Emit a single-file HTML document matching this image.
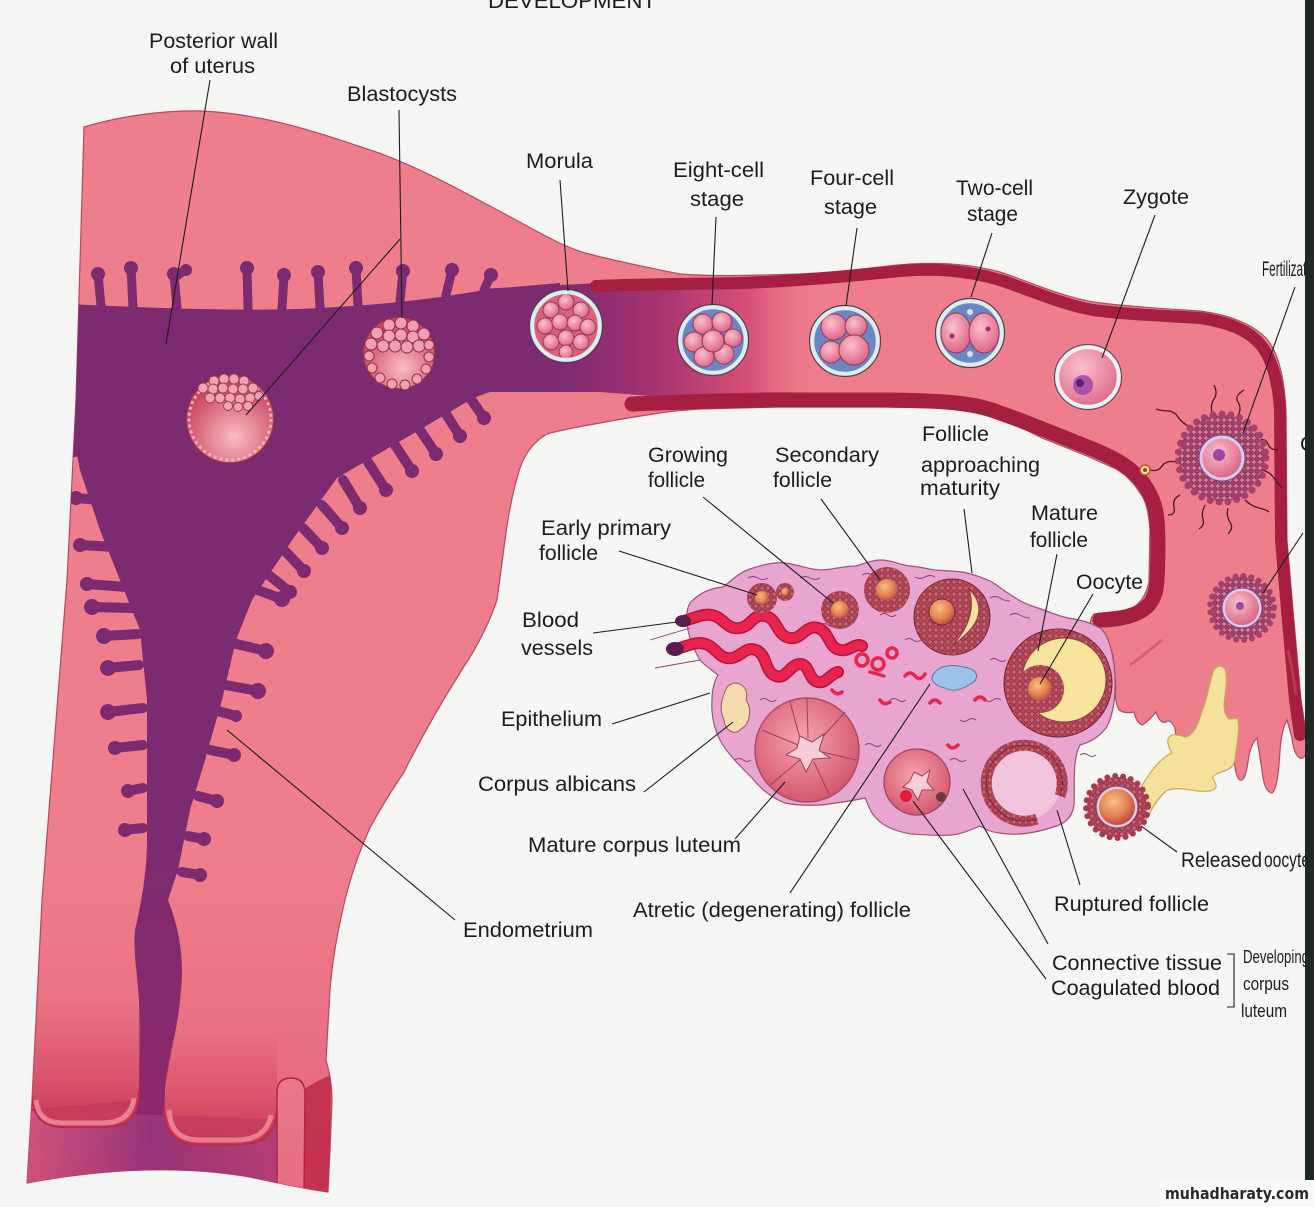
<!DOCTYPE html>
<html><head><meta charset="utf-8"><title>Ovarian cycle, fertilization and early development</title>
<style>
html,body{margin:0;padding:0;background:#f5f5f4;width:1314px;height:1207px;overflow:hidden}
svg{display:block}
.t{font-family:"Liberation Sans",Arial,sans-serif;font-size:21px;fill:#1c1c1c}
.s{font-family:"Liberation Sans",Arial,sans-serif;font-size:18px;fill:#1c1c1c}
.l{stroke:#1c1c1c;stroke-width:1.1;fill:none}
.g{stroke:#7d2b70;stroke-width:9;stroke-linecap:round;fill:none}
.tx{stroke:#8a3f70;stroke-width:0.9;fill:none}
.sp{stroke:#4a1a22;stroke-width:1.3;fill:none}
</style></head><body>
<svg width="1314" height="1207" viewBox="0 0 1314 1207" xmlns="http://www.w3.org/2000/svg">
<defs>
<path id="ut" d="M84,127 C120,116 165,110 202,111 C265,114 320,133 379,153 C425,170 465,193 505,214 C540,233 565,248 589,254 C620,262 650,268 680,274 C720,277 760,275 800,274 C850,272 880,266 910,264 C940,262 970,264 1000,272 C1030,282 1060,296 1093,302 C1130,307 1170,309 1200,311 C1230,315 1252,324 1266,338 C1278,352 1284,375 1286,410 L1287,540 L1293,610 L1301,700 L1308,745 Q1306,760 1300,758 Q1294,755 1292,738 L1287,720 Q1282,728 1280,750 Q1278,790 1272,793 Q1264,792 1262,770 L1257,738 Q1250,745 1248,762 Q1245,782 1240,780 Q1235,777 1234,756 L1231,735 L1195,742 Q1188,760 1182,757 Q1176,745 1175,728 Q1170,718 1166,722 Q1160,724 1156,712 Q1148,722 1142,725 Q1136,722 1134,712 Q1125,714 1119,710 Q1114,700 1116,688 L1113,655 L1106,640 L1096,632 Q1086,624 1094,614 L1128,610 Q1144,604 1149,582 L1150,530 Q1148,502 1140,493 Q1130,477 1116,469 L1087,456 L1042,438 Q1020,426 998,419 Q975,410 946,408 L880,407 L777,407 L700,409 Q670,411 660,413 Q620,419 600,423 Q560,430 547,434 Q528,445 520,468 Q510,500 505,540 L497,600 Q485,635 463,668 Q430,720 404,772 Q382,805 370,828 Q355,860 345,900 Q333,950 330,990 L326,1060 Q332,1080 332,1100 L330,1150 L328,1192 Q300,1188 250,1177 Q150,1160 27,1183 L32,1100 L42,900 L67,580 L76,400 Z"/>
<clipPath id="utc"><use href="#ut"/></clipPath>
<radialGradient id="cellP" cx="0.4" cy="0.35" r="0.7"><stop offset="0" stop-color="#fbc0cc"/><stop offset="1" stop-color="#dc6282"/></radialGradient>
<radialGradient id="oocOr" cx="0.4" cy="0.35" r="0.7"><stop offset="0" stop-color="#f7c080"/><stop offset="0.6" stop-color="#e08050"/><stop offset="1" stop-color="#b04048"/></radialGradient>
<radialGradient id="blast" cx="0.55" cy="0.7" r="0.6"><stop offset="0" stop-color="#fbbcc4"/><stop offset="1" stop-color="#cc4660"/></radialGradient>
<radialGradient id="cl" cx="0.45" cy="0.4" r="0.6"><stop offset="0" stop-color="#f6a4ae"/><stop offset="1" stop-color="#d4586e"/></radialGradient>
<linearGradient id="lum" gradientUnits="userSpaceOnUse" x1="560" y1="0" x2="830" y2="0"><stop offset="0" stop-color="#7d2b70"/><stop offset="0.35" stop-color="#a5326f"/><stop offset="0.7" stop-color="#d65078"/><stop offset="1" stop-color="#ef7e8c" stop-opacity="0"/></linearGradient>
<linearGradient id="lip" x1="0" y1="0" x2="0" y2="1"><stop offset="0" stop-color="#d8566c" stop-opacity="0"/><stop offset="0.5" stop-color="#d8566c" stop-opacity="0.6"/><stop offset="1" stop-color="#c8405a"/></linearGradient>
<linearGradient id="bot" gradientUnits="userSpaceOnUse" x1="0" y1="860" x2="0" y2="1192"><stop offset="0" stop-color="#c8204a" stop-opacity="0"/><stop offset="1" stop-color="#c8204a" stop-opacity="0.28"/></linearGradient>
<linearGradient id="botcav" gradientUnits="userSpaceOnUse" x1="30" y1="0" x2="300" y2="0"><stop offset="0" stop-color="#d2608a"/><stop offset="0.45" stop-color="#873a86"/><stop offset="1" stop-color="#b44a80"/></linearGradient>
<pattern id="gran" width="6" height="6" patternUnits="userSpaceOnUse"><rect width="6" height="6" fill="#c9616f"/><circle cx="3" cy="3" r="2.3" fill="#b24858" stroke="#7a2034" stroke-width="0.7"/></pattern>
<pattern id="cor" width="6" height="6" patternUnits="userSpaceOnUse"><rect width="6" height="6" fill="#d27d9a"/><circle cx="3" cy="3" r="2.3" fill="#a8406c" stroke="#6a1a44" stroke-width="0.7"/></pattern>
</defs>

<!-- header (cut) -->
<text class="t" x="488" y="8" font-size="22" textLength="168" lengthAdjust="spacingAndGlyphs">DEVELOPMENT</text>

<!-- uterus + tube body -->
<use href="#ut" fill="#ef7e8c" stroke="#b24a64" stroke-width="1.2"/>

<g clip-path="url(#utc)">
<!-- cavity -->
<path fill="#7d2b70" d="M70,304 C150,308 250,312 320,308 C400,304 450,296 490,289 L560,283 L560,384 L547,384 C510,386 490,390 470,400 L421,429 L337,478 L295,536 L252,600 L236,640 L222,700 L205,760 L190,810 L178,870 L168,900 C180,930 184,960 181,990 C178,1030 168,1060 165,1090 L165,1120 L300,1140 L300,1200 L20,1200 L20,1110 L139,1100 C139,1060 140,1030 139,1000 C137,970 133,950 135,930 C142,900 147,870 147,840 L147,700 L140,630 L122,585 L100,530 L80,470 L70,420 Z"/>
<path fill="url(#botcav)" d="M20,1110 L300,1120 L302,1200 L20,1200 Z"/>
<path fill="url(#lum)" d="M480,289 L600,283 L700,282 L830,278 L830,398 L700,400 L600,392 L480,392 Z"/>

<!-- glands -->
<g class="g">
<path d="M101,306 L98,274 M133,307 L131,268 M177,308 L174,274 M174,278 L185,270 M248,309 L247,268 M282,309 L284,275 M320,308 L318,272 M358,306 L356,268 M400,302 L403,271 M446,295 L452,270 M484,290 L491,275"/>
<path stroke-width="10" d="M470,398 L484,418 M446,414 L460,436 M420,430 L436,454 M395,445 L412,471 M368,462 L386,490 M343,480 L360,508 M322,505 L342,528 M303,528 L322,548 M286,552 L304,571 M270,576 L290,592"/>
<path stroke-width="10" d="M236,582 L282,599 M228,642 L266,651 M220,684 L258,691 M214,710 L236,716 M210,750 L234,755 M198,796 L217,801 M188,836 L204,839 M182,872 L200,875"/>
<path stroke-width="10" d="M135,608 L92,607 M138,634 L104,636 M139,665 L108,668 M143,708 L108,712 M143,745 L115,748 M143,788 L128,791 M143,828 L125,830"/>
<path stroke-width="10" d="M112,455 L74,450 M124,502 L76,498 M133,548 L80,545 M140,588 L87,584"/>
</g>
<g fill="#7d2b70">
<circle cx="98" cy="274" r="7"/><circle cx="131" cy="268" r="7"/><circle cx="174" cy="274" r="7"/><circle cx="186" cy="270" r="6"/><circle cx="247" cy="268" r="7"/><circle cx="284" cy="275" r="7"/><circle cx="318" cy="272" r="7"/><circle cx="356" cy="268" r="7"/><circle cx="403" cy="271" r="7"/><circle cx="452" cy="270" r="7"/><circle cx="491" cy="275" r="7"/>
<circle cx="484" cy="418" r="7"/><circle cx="460" cy="436" r="7"/><circle cx="436" cy="454" r="7"/><circle cx="412" cy="471" r="7"/><circle cx="386" cy="490" r="7"/><circle cx="360" cy="508" r="7"/><circle cx="342" cy="528" r="7"/><circle cx="322" cy="548" r="7"/><circle cx="304" cy="571" r="7"/><circle cx="290" cy="592" r="7"/>
<circle cx="282" cy="599" r="8"/><circle cx="266" cy="651" r="8"/><circle cx="258" cy="691" r="8"/><circle cx="236" cy="716" r="6"/><circle cx="234" cy="755" r="7"/><circle cx="217" cy="801" r="7"/><circle cx="204" cy="839" r="7"/><circle cx="200" cy="875" r="7"/>
<circle cx="92" cy="607" r="8"/><circle cx="104" cy="636" r="8"/><circle cx="108" cy="668" r="8"/><circle cx="108" cy="712" r="8"/><circle cx="115" cy="748" r="7"/><circle cx="128" cy="791" r="7"/><circle cx="125" cy="830" r="7"/>
<circle cx="74" cy="450" r="7"/><circle cx="76" cy="498" r="7"/><circle cx="80" cy="545" r="7"/><circle cx="87" cy="584" r="7"/>
</g>

<!-- cervix lips -->
<path fill="url(#lip)" d="M20,1000 L139,1000 L139,1090 C139,1118 128,1127 104,1127 L62,1127 C42,1127 32,1115 32,1095 L20,1095 Z"/>
<path fill="none" stroke="#f39aa2" stroke-width="5" d="M36,1100 C38,1118 48,1123 64,1123 L102,1123 C122,1123 132,1114 134,1098"/>
<path fill="none" stroke="#b52e4c" stroke-width="2" d="M32,1095 C32,1115 42,1127 62,1127 L104,1127 C128,1127 139,1118 139,1090"/>
<path fill="url(#lip)" d="M174,1030 L277,1030 L277,1108 C277,1136 260,1145 236,1145 L200,1145 C176,1145 164,1132 164,1108 L166,1080 Z"/>
<path fill="none" stroke="#f39aa2" stroke-width="5" d="M169,1110 C170,1130 180,1140 200,1140 L236,1140 C256,1140 268,1132 271,1115"/>
<path fill="none" stroke="#b52e4c" stroke-width="2" d="M164,1108 C164,1132 176,1145 200,1145 L236,1145 C260,1145 277,1136 277,1108"/>
<path fill="#c4384f" d="M303,1090 Q318,1080 331,1075 L330,1150 L328,1200 L303,1200 Z"/>
<path fill="#f18c98" stroke="#a82545" stroke-width="1.5" d="M277,1200 L277,1092 Q277,1078 291,1078 Q305,1078 305,1094 L304,1200 Z"/>

<!-- lower uterus shading -->
<rect x="0" y="860" width="340" height="340" fill="url(#bot)"/>
</g>

<!-- tube walls -->
<path fill="none" stroke="#a61f40" stroke-width="12" stroke-linecap="round" d="M596,286 C640,284 690,284 740,283 C800,281 850,276 900,271 C935,268 965,270 1000,280 C1030,290 1060,304 1093,310 C1130,315 1170,316 1200,318 C1228,322 1248,330 1260,344 C1272,358 1278,380 1280,410 L1281,540 L1287,610 L1295,700 L1300,735"/>
<path fill="none" stroke="#a61f40" stroke-width="15" stroke-linecap="round" d="M632,404 C680,402 730,400 777,400 L880,400 C910,400 930,401 946,402 C970,404 985,407 1000,413 C1015,418 1030,424 1045,430 L1090,448 C1105,454 1115,459 1124,465 C1140,476 1152,492 1156,512 C1159,532 1158,560 1157,580 C1156,598 1150,608 1135,614 C1122,619 1110,620 1100,620"/>
<path fill="none" stroke="#c84a62" stroke-width="3" opacity="0.6" d="M1130,665 Q1148,652 1162,640 M1288,650 Q1293,672 1296,695"/>

<!-- blastocysts -->
<circle cx="230" cy="419" r="44" fill="url(#blast)" stroke="#8a3050" stroke-width="1.5"/>
<circle cx="230" cy="419" r="41" fill="none" stroke="#f5b0bc" stroke-width="3" stroke-dasharray="3 3"/>
<g fill="#f3a3b0" stroke="#9a3a58" stroke-width="0.9">
<circle cx="214" cy="381" r="5"/><circle cx="224" cy="379" r="5"/><circle cx="234" cy="379" r="5"/><circle cx="244" cy="381" r="5"/>
<circle cx="203" cy="388" r="5"/><circle cx="213" cy="389" r="5"/><circle cx="223" cy="388" r="5"/><circle cx="233" cy="389" r="5"/><circle cx="243" cy="389" r="5"/><circle cx="253" cy="388" r="5"/>
<circle cx="210" cy="398" r="5"/><circle cx="220" cy="398" r="5"/><circle cx="230" cy="398" r="5"/><circle cx="240" cy="399" r="5"/><circle cx="250" cy="398" r="5"/><circle cx="259" cy="396" r="4.5"/>
<circle cx="228" cy="406" r="4.5"/><circle cx="238" cy="407" r="4.5"/><circle cx="248" cy="406" r="4.5"/>
</g>
<circle cx="399" cy="353" r="36" fill="url(#blast)" stroke="#8a3050" stroke-width="1.5"/>
<g fill="#f0a0ae" stroke="#8e3050" stroke-width="1">
<circle cx="389" cy="325" r="6"/><circle cx="401" cy="323" r="6"/><circle cx="413" cy="326" r="6"/>
<circle cx="377" cy="333" r="6"/><circle cx="389" cy="336" r="6"/><circle cx="401" cy="335" r="6"/><circle cx="413" cy="337" r="6"/><circle cx="424" cy="334" r="6"/>
<circle cx="371" cy="344" r="6"/><circle cx="383" cy="346" r="6"/><circle cx="395" cy="346" r="6"/><circle cx="407" cy="347" r="6"/><circle cx="419" cy="346" r="6"/><circle cx="429" cy="345" r="5"/>
<circle cx="369" cy="356" r="5"/><circle cx="429" cy="357" r="5"/><circle cx="372" cy="368" r="5"/><circle cx="426" cy="369" r="5"/>
<circle cx="380" cy="378" r="5"/><circle cx="392" cy="384" r="5"/><circle cx="405" cy="385" r="5"/><circle cx="417" cy="379" r="5"/>
</g>

<!-- morula -->
<circle cx="566" cy="326" r="32" fill="#d9637f"/>
<g fill="url(#cellP)" stroke="#9a3858" stroke-width="1">
<circle cx="566" cy="302" r="8"/><circle cx="551" cy="310" r="8"/><circle cx="581" cy="310" r="8"/>
<circle cx="545" cy="326" r="8"/><circle cx="560" cy="322" r="8"/><circle cx="575" cy="323" r="8"/><circle cx="588" cy="327" r="8"/>
<circle cx="551" cy="342" r="8"/><circle cx="566" cy="338" r="8"/><circle cx="581" cy="342" r="8"/><circle cx="566" cy="352" r="7"/>
</g>
<circle cx="566" cy="326" r="34" fill="none" stroke="#d9eef0" stroke-width="4.5"/>
<circle cx="566" cy="326" r="36.5" fill="none" stroke="#5a3a50" stroke-width="1.2"/>

<!-- eight-cell -->
<circle cx="713" cy="340" r="31" fill="#6c85c6"/>
<g fill="url(#cellP)" stroke="#9a3858" stroke-width="1">
<circle cx="703" cy="324" r="10"/><circle cx="722" cy="322" r="10"/><circle cx="733" cy="338" r="9"/><circle cx="694" cy="342" r="10"/>
<circle cx="724" cy="354" r="10"/><circle cx="704" cy="357" r="10"/><circle cx="713" cy="341" r="11"/>
</g>
<circle cx="713" cy="340" r="33" fill="none" stroke="#d9eef0" stroke-width="4.5"/>
<circle cx="713" cy="340" r="35.5" fill="none" stroke="#5a3a50" stroke-width="1.2"/>

<!-- four-cell -->
<circle cx="845" cy="341" r="31" fill="#6c85c6"/>
<g fill="url(#cellP)" stroke="#9a3858" stroke-width="1">
<circle cx="834" cy="327" r="13"/><circle cx="856" cy="326" r="11"/><circle cx="831" cy="352" r="11"/><circle cx="854" cy="350" r="15"/>
</g>
<circle cx="845" cy="341" r="33" fill="none" stroke="#d9eef0" stroke-width="4.5"/>
<circle cx="845" cy="341" r="35.5" fill="none" stroke="#5a3a50" stroke-width="1.2"/>

<!-- two-cell -->
<circle cx="970" cy="333" r="30" fill="#6c85c6"/>
<g fill="url(#cellP)" stroke="#9a3858" stroke-width="1">
<ellipse cx="956" cy="333" rx="15" ry="20"/><ellipse cx="984" cy="333" rx="15" ry="20"/>
</g>
<circle cx="970" cy="312" r="3" fill="#cfe7f0"/><circle cx="970" cy="354" r="3" fill="#cfe7f0"/>
<circle cx="952" cy="336" r="2.5" fill="#a03070"/><circle cx="988" cy="329" r="2.5" fill="#a03070"/>
<circle cx="970" cy="333" r="32" fill="none" stroke="#d9eef0" stroke-width="4.5"/>
<circle cx="970" cy="333" r="34.5" fill="none" stroke="#5a3a50" stroke-width="1.2"/>

<!-- zygote -->
<ellipse cx="1088" cy="377" rx="33" ry="32" fill="url(#cellP)"/>
<ellipse cx="1088" cy="377" rx="31" ry="30" fill="none" stroke="#e7f2f3" stroke-width="4.5"/>
<ellipse cx="1088" cy="377" rx="33.5" ry="32.5" fill="none" stroke="#6a4a60" stroke-width="1.2"/>
<circle cx="1083" cy="385" r="10" fill="#9a48a8" opacity="0.85"/><circle cx="1080" cy="383" r="4" fill="#5a2070"/>

<!-- fertilization -->
<g class="sp">
<path d="M1190,427 q-8,-4 -12,-10 t-10,-6 t-12,-2"/><path d="M1212,413 q-2,-8 2,-14 t0,-14"/><path d="M1238,416 q4,-8 0,-14 t6,-12"/>
<path d="M1258,440 q8,-2 10,4 t10,6"/><path d="M1262,470 q8,2 12,8 t8,10"/><path d="M1245,500 q6,6 14,8 t10,4"/>
<path d="M1228,508 q-2,8 2,14 t-2,12"/><path d="M1205,505 q-4,8 -2,14 t-4,10"/><path d="M1180,495 q-8,4 -6,12 t-6,8"/>
<path d="M1176,462 q-10,-2 -14,4 t-12,4"/>
</g>
<circle cx="1222" cy="458" r="43" fill="url(#cor)"/>
<circle cx="1222" cy="458" r="44" fill="none" stroke="#a8406c" stroke-width="7" stroke-dasharray="0 9" stroke-linecap="round"/>
<circle cx="1222" cy="458" r="23" fill="#dcc8e8" stroke="#7a4a90" stroke-width="1"/>
<circle cx="1222" cy="458" r="19.5" fill="url(#cellP)"/>
<circle cx="1219" cy="455" r="6" fill="#9a48a8"/>
<circle cx="1145" cy="470" r="5" fill="#f7e0a0" stroke="#c05030" stroke-width="1.5"/><circle cx="1145" cy="470" r="2" fill="#a04020"/>

<!-- second corona oocyte -->
<circle cx="1242" cy="608" r="31" fill="url(#cor)"/>
<circle cx="1242" cy="608" r="32" fill="none" stroke="#a8406c" stroke-width="6" stroke-dasharray="0 8" stroke-linecap="round"/>
<circle cx="1242" cy="608" r="20" fill="#dcc8e8" stroke="#7a4a90" stroke-width="1"/>
<circle cx="1242" cy="608" r="17" fill="url(#cellP)"/>
<circle cx="1240" cy="606" r="4" fill="#9a48a8"/>

<!-- cumulus trail -->
<path fill="#f5e29a" stroke="#c9a85a" stroke-width="1.2" d="M1138,792 C1150,772 1160,758 1172,753 C1168,746 1165,738 1172,735 C1180,733 1185,740 1190,735 C1200,725 1200,715 1205,703 C1208,692 1210,682 1213,672 C1216,664 1226,664 1226,674 C1228,690 1222,702 1225,712 C1228,725 1235,715 1238,720 C1240,732 1236,746 1235,760 C1232,772 1222,770 1215,775 C1208,779 1222,785 1213,790 C1198,795 1180,784 1166,791 C1156,800 1150,812 1146,820 Z"/>

<!-- released oocyte -->
<circle cx="1117" cy="807" r="30" fill="url(#gran)"/>
<circle cx="1117" cy="807" r="31" fill="none" stroke="#a83a50" stroke-width="6" stroke-dasharray="0 8" stroke-linecap="round"/>
<circle cx="1117" cy="807" r="21" fill="#e8c8d8" stroke="#7a3a60" stroke-width="1"/>
<circle cx="1117" cy="807" r="18" fill="url(#oocOr)"/>

<!-- ovary -->
<path fill="#e7a5d0" stroke="#a0507a" stroke-width="1.2" d="M690,603 C700,592 712,588 723,587 C732,580 740,572 750,569 C765,564 775,562 785,563 C800,565 810,570 822,570 C835,569 845,566 856,566 C866,563 872,560 882,560 C895,561 900,565 910,566 C922,567 928,569 935,570 C948,571 955,571 962,572 C975,574 982,578 990,581 C998,585 1002,590 1008,593 C1018,600 1025,604 1035,607 C1050,612 1058,616 1068,618 C1080,620 1090,622 1100,628 C1108,634 1112,650 1114,665 C1117,690 1114,715 1106,728 C1098,738 1090,742 1080,745 C1072,760 1075,785 1074,805 C1072,820 1062,825 1050,828 C1035,833 1015,836 1000,833 C990,832 985,829 980,826 C970,830 962,834 952,835 C938,836 926,835 912,834 C898,832 885,828 876,818 C870,812 868,804 865,798 C855,800 845,802 835,803 C820,806 800,806 785,803 C770,797 760,788 752,778 C740,766 726,752 720,740 C714,728 711,715 712,700 C712,690 714,682 718,675 C712,670 705,666 700,660 C694,650 690,640 688,630 C686,620 686,610 690,603 Z"/>
<path class="tx" d="M650,640 L690,628 M655,668 L700,660 M748,578 q5,-3 10,0 t10,0 M800,578 q5,-3 10,0 t10,0 M862,575 q5,-3 10,0 t10,0 M915,577 q5,3 10,0 t10,0 M990,598 q5,-3 10,0 t10,3 M1010,615 q5,-3 10,0 t10,3 M880,615 q4,-3 8,0 t8,0 M905,640 q4,-3 8,0 t8,0 M990,660 q4,-3 8,0 t8,0 M985,700 q4,3 8,0 t8,0 M890,700 q4,-3 8,0 t8,0 M760,700 q4,-3 8,0 t8,0 M865,745 q4,-3 8,0 t8,0 M950,760 q4,-3 8,0 t8,0 M960,720 q4,3 8,0 t8,0 M1080,755 q4,-3 8,0 t8,0 M735,760 q4,-3 8,0 t8,0 M820,625 q4,-3 8,0 t8,0 M1000,790 q4,-3 8,0 t8,0"/>

<!-- blood vessels -->
<g fill="none" stroke-linecap="round">
<path stroke="#b8103a" stroke-width="12" d="M684,621 C695,618 705,612 715,616 C725,620 728,630 740,628 C752,626 752,614 765,616 C778,618 776,636 790,638 C802,640 806,624 818,628 C830,632 828,648 840,650 C850,652 855,642 862,646"/>
<path stroke="#e8244c" stroke-width="9" d="M684,621 C695,618 705,612 715,616 C725,620 728,630 740,628 C752,626 752,614 765,616 C778,618 776,636 790,638 C802,640 806,624 818,628 C830,632 828,648 840,650 C850,652 855,642 862,646"/>
<path stroke="#b8103a" stroke-width="12" d="M676,649 C688,646 698,640 708,645 C718,650 720,660 732,658 C742,656 746,646 756,650 C768,655 764,672 776,676 C786,680 790,664 800,664 C810,664 808,680 818,682 C826,684 830,674 838,672"/>
<path stroke="#e8244c" stroke-width="9" d="M676,649 C688,646 698,640 708,645 C718,650 720,660 732,658 C742,656 746,646 756,650 C768,655 764,672 776,676 C786,680 790,664 800,664 C810,664 808,680 818,682 C826,684 830,674 838,672"/>
<g stroke="#e8244c" stroke-width="3.5">
<circle cx="862" cy="660" r="6"/><circle cx="878" cy="664" r="6"/><circle cx="892" cy="653" r="5"/>
<path d="M870,672 L884,676 M905,676 q5,-6 10,0 t10,-2 M880,700 q4,6 10,2 M930,703 q5,-6 10,0 M975,700 q5,-6 10,0 M948,745 q4,6 10,0 M832,690 q4,6 10,2"/>
</g>
</g>
<ellipse cx="683" cy="621" rx="8" ry="6" fill="#5c1c52"/><ellipse cx="675" cy="649" rx="9" ry="7" fill="#5c1c52"/>

<!-- follicles -->
<circle cx="762" cy="598" r="15" fill="url(#gran)"/><circle cx="762" cy="598" r="7" fill="url(#oocOr)"/>
<circle cx="785" cy="592" r="9" fill="url(#gran)"/><circle cx="785" cy="592" r="4" fill="url(#oocOr)"/>
<circle cx="840" cy="610" r="19" fill="url(#gran)"/><circle cx="840" cy="610" r="9" fill="url(#oocOr)"/>
<circle cx="887" cy="590" r="23" fill="url(#gran)"/><circle cx="887" cy="590" r="11" fill="url(#oocOr)"/>
<circle cx="952" cy="617" r="38" fill="url(#gran)" stroke="#7a2034" stroke-width="1"/>
<path fill="#f5e29a" stroke="#8a3a48" stroke-width="1" d="M969,589 Q995,615 953,645 Q978,617 969,589 Z"/>
<circle cx="942" cy="612" r="13" fill="url(#oocOr)" stroke="#7a2034" stroke-width="1"/>
<circle cx="1058" cy="683" r="54" fill="url(#gran)" stroke="#7a2034" stroke-width="1"/>
<circle cx="1064" cy="680" r="42" fill="#f6e49c" stroke="#8a3a48" stroke-width="1"/>
<circle cx="1040" cy="689" r="24" fill="url(#gran)"/>
<circle cx="1040" cy="689" r="12" fill="url(#oocOr)"/>
<circle cx="1024" cy="783" r="37" fill="#f2c3dc"/>
<path d="M1060,796 A38 38 0 1 0 1037,819" fill="none" stroke="url(#gran)" stroke-width="11"/>
<path d="M1060,796 A38 38 0 1 0 1037,819" fill="none" stroke="#7a2034" stroke-width="0.8"/>
<path fill="#f4dcae" stroke="#9a5a60" stroke-width="1" d="M728,686 C738,678 750,688 746,700 C753,710 749,725 741,729 C735,736 725,731 724,720 C719,710 721,697 728,686 Z"/>
<circle cx="807" cy="750" r="52" fill="url(#cl)" stroke="#b04a62" stroke-width="1.5"/>
<path fill="none" stroke="#a04058" stroke-width="1" d="M807,698 L808,738 M762,730 L798,745 M770,785 L800,760 M830,796 L814,762 M856,760 L822,752 M845,712 L820,740 M790,702 L800,738"/>
<path fill="#f6ccd6" stroke="#9a4058" stroke-width="1" d="M800,736 L812,742 L824,734 L819,750 L830,758 L813,759 L806,772 L800,759 L786,755 L797,748 Z"/>
<circle cx="917" cy="782" r="33" fill="url(#cl)" stroke="#a04060" stroke-width="1.2"/>
<path fill="#f6ccd6" stroke="#9a4058" stroke-width="1" d="M914,772 L922,776 L930,770 L927,782 L934,790 L922,790 L918,800 L912,790 L903,787 L910,781 Z"/>
<circle cx="906" cy="796" r="6" fill="#e41a3a"/><circle cx="941" cy="797" r="5" fill="#6a3a40"/>
<path fill="#9dc3ea" stroke="#5a7aa8" stroke-width="1" d="M935,672 C945,662 960,666 968,668 C978,670 980,680 970,684 C962,690 952,692 945,688 C935,686 928,680 935,672 Z"/>

<!-- leader lines -->
<g class="l">
<path d="M210,80 L166,344"/>
<path d="M399,110 L402,318 M400,239 L246,415"/>
<path d="M560,180 L568,291"/>
<path d="M716,217 L712,305"/>
<path d="M857,228 L846,306"/>
<path d="M992,233 L971,297"/>
<path d="M1155,215 L1102,358"/>
<path d="M1295,287 L1243,433"/>
<path d="M1303,533 L1263,593"/>
<path d="M703,497 L833,603"/>
<path d="M821,499 L880,580"/>
<path d="M964,509 L972,573"/>
<path d="M1057,554 L1038,651"/>
<path d="M1093,594 L1040,684"/>
<path d="M619,551 L757,595"/>
<path d="M593,633 L677,622"/>
<path d="M612,724 L710,693"/>
<path d="M644,792 L733,722"/>
<path d="M735,839 L785,782"/>
<path d="M790,893 L930,684"/>
<path d="M455,920 L227,730"/>
<path d="M1177,852 L1141,826"/>
<path d="M1080,885 L1057,810"/>
<path d="M1048,944 L963,789"/>
<path d="M1046,979 L913,801"/>
<path d="M1227,954 L1234,954 L1234,1007 L1227,1007"/>
</g>

<!-- labels -->
<text class="t" x="149" y="48" textLength="129" lengthAdjust="spacingAndGlyphs">Posterior wall</text>
<text class="t" x="170" y="73" textLength="85" lengthAdjust="spacingAndGlyphs">of uterus</text>
<text class="t" x="347" y="101" textLength="110" lengthAdjust="spacingAndGlyphs">Blastocysts</text>
<text class="t" x="526" y="168" textLength="67" lengthAdjust="spacingAndGlyphs">Morula</text>
<text class="t" x="673" y="177" textLength="91" lengthAdjust="spacingAndGlyphs">Eight-cell</text>
<text class="t" x="690" y="206" textLength="54" lengthAdjust="spacingAndGlyphs">stage</text>
<text class="t" x="810" y="185" textLength="84" lengthAdjust="spacingAndGlyphs">Four-cell</text>
<text class="t" x="824" y="214" textLength="53" lengthAdjust="spacingAndGlyphs">stage</text>
<text class="t" x="956" y="195" textLength="77" lengthAdjust="spacingAndGlyphs">Two-cell</text>
<text class="t" x="967" y="221" textLength="51" lengthAdjust="spacingAndGlyphs">stage</text>
<text class="t" x="1123" y="204" textLength="66" lengthAdjust="spacingAndGlyphs">Zygote</text>
<text class="t" x="1262" y="276" font-size="16" textLength="60" lengthAdjust="spacingAndGlyphs">Fertilization</text>
<text class="t" x="1300" y="451" font-size="17">C</text>
<text class="t" x="648" y="462" textLength="80" lengthAdjust="spacingAndGlyphs">Growing</text>
<text class="t" x="648" y="487" textLength="57" lengthAdjust="spacingAndGlyphs">follicle</text>
<text class="t" x="775" y="462" textLength="104" lengthAdjust="spacingAndGlyphs">Secondary</text>
<text class="t" x="773" y="487" textLength="59" lengthAdjust="spacingAndGlyphs">follicle</text>
<text class="t" x="922" y="441" textLength="67" lengthAdjust="spacingAndGlyphs">Follicle</text>
<text class="t" x="921" y="472" textLength="119" lengthAdjust="spacingAndGlyphs">approaching</text>
<text class="t" x="920" y="495" textLength="80" lengthAdjust="spacingAndGlyphs">maturity</text>
<text class="t" x="1031" y="520" textLength="67" lengthAdjust="spacingAndGlyphs">Mature</text>
<text class="t" x="1030" y="547" textLength="58" lengthAdjust="spacingAndGlyphs">follicle</text>
<text class="t" x="1076" y="589" textLength="67" lengthAdjust="spacingAndGlyphs">Oocyte</text>
<text class="t" x="541" y="535" textLength="130" lengthAdjust="spacingAndGlyphs">Early primary</text>
<text class="t" x="539" y="560" textLength="59" lengthAdjust="spacingAndGlyphs">follicle</text>
<text class="t" x="522" y="627" textLength="57" lengthAdjust="spacingAndGlyphs">Blood</text>
<text class="t" x="521" y="655" textLength="72" lengthAdjust="spacingAndGlyphs">vessels</text>
<text class="t" x="501" y="726" textLength="101" lengthAdjust="spacingAndGlyphs">Epithelium</text>
<text class="t" x="478" y="791" textLength="158" lengthAdjust="spacingAndGlyphs">Corpus albicans</text>
<text class="t" x="528" y="852" textLength="213" lengthAdjust="spacingAndGlyphs">Mature corpus luteum</text>
<text class="t" x="633" y="917" textLength="278" lengthAdjust="spacingAndGlyphs">Atretic (degenerating) follicle</text>
<text class="t" x="463" y="937" textLength="130" lengthAdjust="spacingAndGlyphs">Endometrium</text>
<text class="t" x="1181" y="867" textLength="81" lengthAdjust="spacingAndGlyphs">Released</text>
<text class="t" x="1264" y="867" font-size="17" textLength="46" lengthAdjust="spacingAndGlyphs">oocyte</text>
<text class="t" x="1054" y="911" textLength="155" lengthAdjust="spacingAndGlyphs">Ruptured follicle</text>
<text class="t" x="1052" y="970" textLength="170" lengthAdjust="spacingAndGlyphs">Connective tissue</text>
<text class="t" x="1051" y="995" textLength="169" lengthAdjust="spacingAndGlyphs">Coagulated blood</text>
<text class="s" x="1243" y="963" textLength="66" lengthAdjust="spacingAndGlyphs">Developing</text>
<text class="s" x="1243" y="990" textLength="46" lengthAdjust="spacingAndGlyphs">corpus</text>
<text class="s" x="1241" y="1017" textLength="46" lengthAdjust="spacingAndGlyphs">luteum</text>

<!-- book spine / watermark -->
<rect x="1305" y="0" width="9" height="1180" fill="#1f2924"/>
<rect x="1160" y="1180" width="154" height="27" fill="#fafafa"/>
<text x="1165" y="1199" font-family="'DejaVu Sans','Liberation Sans',sans-serif" font-weight="bold" font-size="16" fill="#2a2a2a" textLength="144" lengthAdjust="spacingAndGlyphs">muhadharaty.com</text>
</svg>
</body></html>
